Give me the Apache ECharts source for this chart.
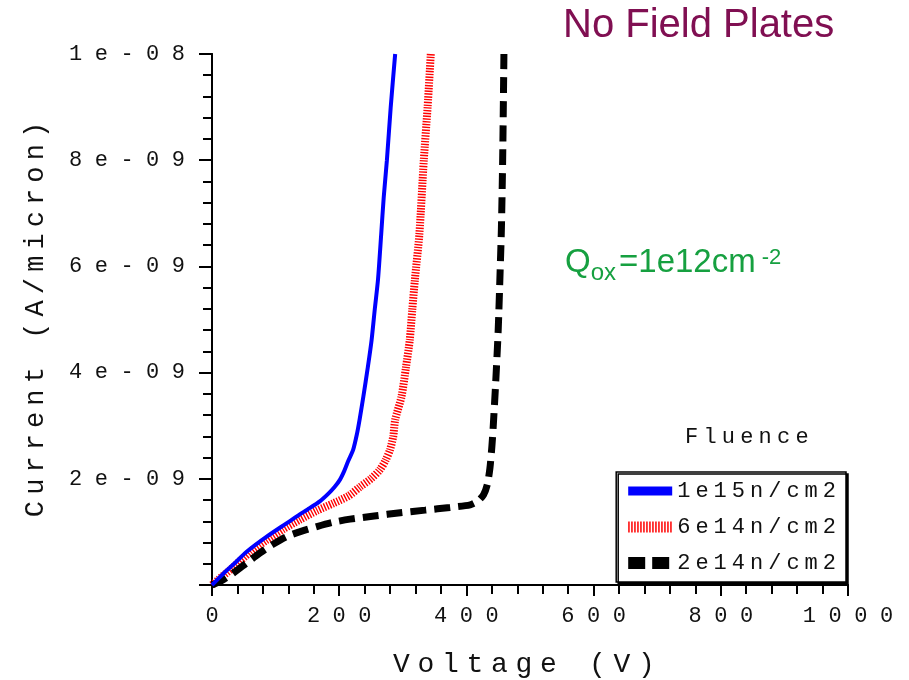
<!DOCTYPE html>
<html>
<head>
<meta charset="utf-8">
<script src="https://cdn.jsdelivr.net/npm/echarts@6/dist/echarts.min.js"></script>
<style>html,body{margin:0;padding:0;background:#fff}#c{width:909px;height:680px}</style>
</head>
<body>
<div id="c"></div>
<script>
// Voltage (V) vs current (in units of 1e-9 A/micron)
const fluence1e15 = [[0,0],[10,0.12],[20,0.24],[33,0.38],[55,0.63],[86,0.91],[117,1.16],[138,1.33],[150,1.42],[170,1.58],[183,1.72],[193,1.85],[201,1.98],[208,2.15],[214,2.33],[222,2.55],[228,2.85],[232,3.11],[238,3.55],[245,4.1],[251,4.62],[256,5.2],[261,5.75],[266,6.6],[270,7.3],[275,8.0],[281,9.0],[288,10]];
const fluence6e14 = [[0,0],[10,0.1],[30,0.3],[60,0.62],[85,0.84],[112,1.05],[138,1.23],[165,1.4],[191,1.54],[215,1.68],[233,1.85],[250,2.0],[264,2.17],[273,2.35],[280,2.55],[285,2.8],[288,3.11],[298,3.55],[305,4.1],[311,4.62],[315,5.2],[319,5.75],[326,6.6],[333,8.0],[339,9.0],[344,10]];
const fluence2e14 = [[0,0],[15,0.08],[33,0.22],[55,0.42],[75,0.6],[95,0.76],[117,0.91],[140,1.01],[165,1.1],[190,1.18],[217,1.24],[255,1.3],[296,1.36],[335,1.41],[374,1.46],[406,1.51],[418,1.58],[427,1.7],[433,1.9],[437,2.2],[440,2.6],[442,2.95],[446,3.8],[450,4.8],[453,5.9],[455,6.7],[457,8],[459,10]];
const seriesNames = ['1e15n/cm2','6e14n/cm2','2e14n/cm2'];
const yTickLabels = ['', '2e-09', '4e-09', '6e-09', '8e-09', '1e-08'];
const xTickLabels = ['0','200','400','600','800','1000'];

const MONO = '"Liberation Mono", "Courier New", monospace';
const SANS = '"Liberation Sans", Arial, sans-serif';
function spaced(s, g) { return s.split('').join('{' + g + '| }'); }
function gap(px) { return { fontSize: px / 0.6, fontFamily: MONO }; }
const richGaps = { gt: gap(12.5), gl: gap(5.0), gf: gap(5.2), gx: gap(7.7), gy: gap(6.1) };

const chart = echarts.init(document.getElementById('c'), null, { renderer: 'canvas' });
const axisLine = { show: true, lineStyle: { color: '#000', width: 2 } };
const G = '#16a040';
chart.setOption({
  animation: false,
  backgroundColor: '#fff',
  title: [
    { text: 'No Field Plates', left: 563, top: 5, padding: 0,
      textStyle: { fontFamily: SANS, fontSize: 40, fontWeight: 'normal', color: '#800f52', lineHeight: 42 } },
    { text: '{m|Q}{sub|ox}{m|=1e12cm}{sup|-2}', left: 565, top: 241, padding: 0,
      textStyle: { fontWeight: 'normal', rich: {
        m: { fontFamily: SANS, fontWeight: 'normal', fontSize: 33, color: G, lineHeight: 44 },
        sub: { fontFamily: SANS, fontWeight: 'normal', fontSize: 24, color: G, verticalAlign: 'bottom', padding: [0, 3, 0, 0] },
        sup: { fontFamily: SANS, fontWeight: 'normal', fontSize: 22, color: G, verticalAlign: 'top', padding: [6, 0, 0, 6] }
      } } },
    { text: spaced('Fluence', 'gf'), left: 685, top: 425, padding: 0,
      textStyle: { fontFamily: MONO, fontSize: 22, fontWeight: 'normal', color: '#111', lineHeight: 24, rich: richGaps } }
  ],
  grid: { left: 212, right: 61, top: 54, bottom: 95, containLabel: false, outerBoundsMode: 'none' },
  legend: {
    orient: 'vertical', right: 63, bottom: 98,
    itemWidth: 44, itemHeight: 12, itemGap: 14, itemTextGap: 5,
    padding: [8, 10, 8, 6],
    backgroundColor: '#fff', borderColor: '#000', borderWidth: 1.5,
    shadowColor: '#000', shadowOffsetX: 2, shadowOffsetY: 2, shadowBlur: 0,
    itemStyle: { color: 'transparent', borderWidth: 0, opacity: 0 },
    data: [
      { name: seriesNames[0], lineStyle: { width: 9, type: 'solid', color: '#0000ff' } },
      { name: seriesNames[1], lineStyle: { width: 11, type: [1.5, 1.5], color: '#ff0000' } },
      { name: seriesNames[2], lineStyle: { width: 12, type: [17, 7], color: '#000' } }
    ],
    formatter: function (n) { return spaced(n, 'gl'); },
    textStyle: { fontFamily: MONO, fontSize: 22, color: '#111', rich: richGaps },
    z: 10
  },
  xAxis: [
    { type: 'value', min: 0, max: 1000, interval: 200, position: 'bottom',
      name: spaced('Voltage (V)', 'gx'), nameLocation: 'middle', nameGap: 66,
      nameTextStyle: { fontFamily: MONO, fontSize: 28, color: '#111', padding: [0, 12, 0, 0], rich: richGaps },
      axisLine: axisLine,
      axisTick: { show: true, inside: false, length: 11, lineStyle: { color: '#000', width: 2 } },
      minorTick: { show: true, splitNumber: 5, length: 9, lineStyle: { color: '#000', width: 2 } },
      splitLine: { show: false },
      axisLabel: { margin: 20, fontFamily: MONO, fontSize: 22, color: '#111', rich: richGaps,
        formatter: function (v) { return spaced(xTickLabels[Math.round(v / 200)], 'gt'); } } },
    { type: 'value', min: 0, max: 1000, position: 'top', axisLine: axisLine,
      axisTick: { show: false }, axisLabel: { show: false }, splitLine: { show: false } }
  ],
  yAxis: [
    { type: 'value', min: 0, max: 10, interval: 2, position: 'left',
      name: spaced('Current (A/micron)', 'gy'), nameLocation: 'middle', nameGap: 163,
      nameTextStyle: { fontFamily: MONO, fontSize: 27, color: '#111', rich: richGaps },
      axisLine: axisLine,
      axisTick: { show: true, inside: false, length: 13, lineStyle: { color: '#000', width: 2 } },
      minorTick: { show: true, splitNumber: 5, length: 9, lineStyle: { color: '#000', width: 2 } },
      splitLine: { show: false },
      axisLabel: { margin: 27, fontFamily: MONO, fontSize: 22, color: '#111', rich: richGaps,
        formatter: function (v) { const t = yTickLabels[Math.round(v / 2)]; return t ? spaced(t, 'gt') : ''; } } },
    { type: 'value', min: 0, max: 10, position: 'right', axisLine: axisLine,
      axisTick: { show: false }, axisLabel: { show: false }, splitLine: { show: false } }
  ],
  series: [
    { name: seriesNames[1], type: 'line', data: fluence6e14, symbol: 'none', smooth: 0.25, z: 2,
      lineStyle: { color: '#ff0000', width: 8, type: [1.4, 1.4], cap: 'butt' }, itemStyle: { color: '#ff0000' } },
    { name: seriesNames[2], type: 'line', data: fluence2e14, symbol: 'none', smooth: 0.25, z: 3,
      lineStyle: { color: '#000', width: 7, type: [16, 8], cap: 'butt' }, itemStyle: { color: '#000' } },
    { name: seriesNames[0], type: 'line', data: fluence1e15, symbol: 'none', smooth: 0.25, z: 4,
      lineStyle: { color: '#0000ff', width: 4 }, itemStyle: { color: '#0000ff' } }
  ]
});
</script>
</body>
</html>
